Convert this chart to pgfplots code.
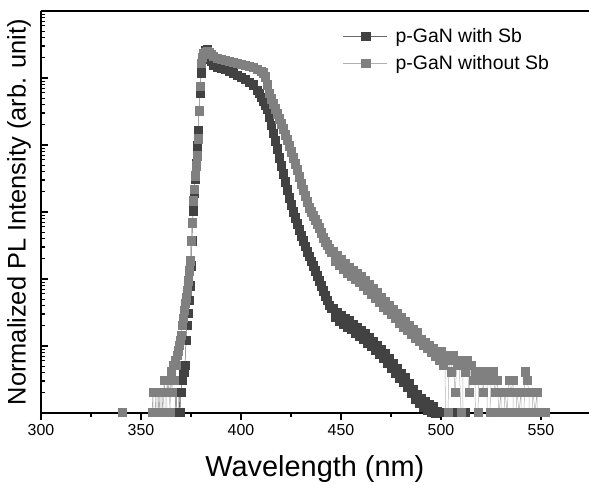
\documentclass[border=0pt]{standalone}
\usepackage{fontspec}
\setmainfont{Liberation Sans}
\usepackage{pgfplots}
\pgfplotsset{compat=1.18}
\definecolor{darkc}{RGB}{66,66,66}
\definecolor{darkl}{RGB}{105,105,105}
\definecolor{lightc}{RGB}{128,128,128}
\definecolor{lightl}{RGB}{175,175,175}
\begin{document}
\begin{tikzpicture}
\begin{axis}[
 scale only axis, width=550bp, height=402bp,
 xmin=300, xmax=575, ymode=log, ymin=1e-6, ymax=1,
 axis x line*=box, axis y line*=left,
 x axis line style={-}, y axis line style={-},
 axis line style={line width=1.5bp},
 xtick={300,350,...,550}, minor x tick num=1,
 ytick={1e-6,1e-5,1e-4,1e-3,1e-2,1e-1,1},
 yticklabels={},
 xtick pos=left, ytick pos=left,
 xtick align=outside, ytick align=inside,
 major tick length=7bp, minor tick length=4bp,
 every tick/.append style={black, line width=1.1bp},
 xticklabel style={font=\fontsize{16}{19}\selectfont, yshift=-1bp},
 /pgf/number format/assume math mode=true,
 xlabel={Wavelength (nm)}, ylabel={Normalized PL Intensity (arb. unit)},
 every axis x label/.style={at={(axis description cs:0.498,0)}, anchor=center, yshift=-56bp, font=\fontsize{29}{34}\selectfont},
 every axis y label/.style={at={(axis description cs:-0.040,0.5)}, rotate=90, anchor=center, font=\fontsize{25.5}{30}\selectfont},
 legend style={at={(axis description cs:0.549,0.962)}, anchor=north west, draw=none, fill=none, font=\fontsize{19.5}{23}\selectfont, row sep=7.5bp, column sep=6bp, inner sep=0pt},
 legend cell align=left,
 legend image code/.code={\draw[#1, mark repeat=2, mark phase=2] plot coordinates {(0bp,0bp) (22bp,0bp) (44bp,0bp)};},
]
\addplot[color=darkl, line width=0.5bp, mark=square*, mark size=4.3bp, mark options={draw=darkc, fill=darkc, line width=0.3bp}] coordinates {
(365.5,1e-9)(366,1.03e-6)(366.5,1e-9)(367,1.03e-6)(367.5,2.06e-6)(368,1.03e-6)(368.5,1e-9)(369,2.06e-6)(369.5,1.03e-6)(370,2.06e-6)(370.5,3.09e-6)(371,4.12e-6)(371.5,4.12e-6)(372,5.15e-6)(372.5,1.22e-5)(373,2.04e-5)(373.5,3.1e-5)(374,4.81e-5)(374.5,8.03e-5)(375,1.59e-4)(375.5,3.75e-4)(376,1.05e-3)(376.5,1.95e-3)(377,3.1e-3)(377.5,5.3e-3)(378,9.73e-3)(378.5,1.63e-2)(379,3.3e-2)(379.5,5.98e-2)(380,0.119)(380.5,0.192)(381,0.235)(382,0.26)(383,0.27)(384,0.212)(385,0.179)(386,0.156)(388,0.146)(390,0.141)(392,0.136)(394,0.127)(396,0.119)(398,0.110)(400,0.103)(402,0.0966)(404,0.0870)(406,0.0790)(408,0.0660)(409,0.0598)(410,0.0515)(411,0.0455)(412,0.0396)(413,0.0346)(414,0.0262)(415,0.0199)(416,0.0151)(417,0.0116)(418,0.00878)(419,0.00651)(420,0.00490)(421,0.00372)(422,0.00283)(423,0.00215)(424,0.00163)(425,0.00129)(426,0.00101)(427,8.2e-4)(428,6.7e-4)(429,5.5e-4)(430,4.46e-4)(431,3.75e-4)(432,3.1e-4)(433,2.58e-4)(434,2.18e-4)(435,1.84e-4)(436,1.59e-4)(437,1.34e-4)(438,1.13e-4)(439,9.53e-5)(440,8.03e-5)(441,6.76e-5)(442,5.7e-5)(443,4.81e-5)(444,4.05e-5)(445,3.65e-5)
(446,3.65e-5)(447,2.68e-5)(448,3.18e-5)(449,2.37e-5)(450,2.85e-5)(451,2.14e-5)(452,2.58e-5)(453,1.96e-5)(454,2.42e-5)(455,1.78e-5)(456,2.1e-5)(457,1.57e-5)(458,1.9e-5)(459,1.42e-5)(460,1.72e-5)(461,1.27e-5)(462,1.55e-5)(463,1.13e-5)(464,1.35e-5)(465,9.9e-6)(466,1.17e-5)(467,8.7e-6)(468,1.03e-5)(469,7.55e-6)(470,9.0e-6)(471,6.6e-6)(472,7.8e-6)(473,5.7e-6)(474,6.5e-6)(475,4.7e-6)(476,5.5e-6)(477,4.0e-6)(478,4.65e-6)(479,3.4e-6)(480,3.93e-6)(481,2.88e-6)(482,3.43e-6)(483,2.44e-6)(484,2.77e-6)(485,1.99e-6)(486,2.27e-6)(487,1.64e-6)(488,1.92e-6)(489,1.4e-6)(490,1.66e-6)(491,1.25e-6)(492,1.5e-6)(493,1.12e-6)(494,1.36e-6)(495,1.04e-6)(496,1.27e-6)(497,1.0e-6)(498,1.07e-6)(499,1.03e-6)(500,1e-9)(501,1.03e-6)(502,1e-9)(506,1e-9)(506.5,1.03e-6)(507,1e-9)(509,1.03e-6)(510,1e-9)(512,1.03e-6)(513,1e-9)
};
\addlegendentry{p-GaN with Sb}
\addplot[color=lightl, line width=0.5bp, mark=square*, mark size=4.3bp, mark options={draw=lightc, fill=lightc, line width=0.3bp}] coordinates {
(339.5,1e-9)(340.5,1.03e-6)(341.5,1e-9)(355,1e-9)(355.5,1.03e-6)(356,2.06e-6)(356.5,1e-9)(357,1.03e-6)(357.5,2.06e-6)(358,1e-9)(358.5,2.06e-6)(359,1.03e-6)(359.5,2.06e-6)(360,1e-9)(360.5,2.06e-6)(361,1.03e-6)(361.5,3.09e-6)(362,2.06e-6)(362.5,1e-9)(363,3.09e-6)(363.5,2.06e-6)(364,3.09e-6)(364.5,1.03e-6)(365,4.12e-6)(365.5,2.06e-6)(366,5.15e-6)(366.5,3.09e-6)(367,6.18e-6)(367.5,5.15e-6)(368,7.3e-6)(368.5,8.5e-6)(369,1.03e-5)(369.5,1.22e-5)(370,1.45e-5)(370.5,2.04e-5)(371,2.6e-5)(371.5,3.41e-5)(372,4.35e-5)(372.5,5.3e-5)(373,6.76e-5)(373.5,9.53e-5)(374,1.34e-4)(374.5,1.89e-4)(375,3.75e-4)(375.5,7.0e-4)(376,1.48e-3)(376.5,2.2e-3)(377,3.48e-3)(377.5,4.9e-3)(378,6.9e-3)(378.5,1.24e-2)(379,3.23e-2)(379.5,7.6e-2)(380,0.167)(380.5,0.206)(381,0.235)(382,0.243)(383,0.252)(384,0.243)(385,0.226)(386,0.212)(388,0.199)(390,0.192)(392,0.185)(394,0.179)(396,0.173)(398,0.167)(400,0.161)(402,0.156)(404,0.151)(406,0.146)(408,0.136)(410,0.127)(411,0.119)(412,0.104)(413,0.079)(414,0.0598)(415,0.0488)(416,0.041)(417,0.0346)(418,0.0292)(419,0.0246)(420,0.0207)(421,0.0175)(422,0.0142)(423,0.0120)(424,0.00973)(425,0.00794)(426,0.00651)(427,0.00527)(428,0.00427)(429,0.00336)(430,0.00265)(431,0.00215)(432,0.00175)(433,0.00143)(434,0.00117)(435,0.00101)(436,8.83e-4)(437,7.7e-4)(438,6.7e-4)(439,5.9e-4)(440,4.96e-4)(441,4.15e-4)(442,3.63e-4)(443,3.27e-4)(444,2.85e-4)(445,2.58e-4)
(446,2.58e-4)(447,1.89e-4)(448,2.25e-4)(449,1.64e-4)(450,1.95e-4)(451,1.43e-4)(452,1.70e-4)(453,1.25e-4)(454,1.48e-4)(455,1.11e-4)(456,1.34e-4)(457,1.0e-4)(458,1.2e-4)(459,9.0e-5)(460,1.08e-4)(461,8.03e-5)(462,9.53e-5)(463,7.0e-5)(464,8.3e-5)(465,6.1e-5)(466,7.2e-5)(467,5.3e-5)(468,6.2e-5)(469,4.5e-5)(470,5.3e-5)(471,3.9e-5)(472,4.6e-5)(473,3.41e-5)(474,4.05e-5)(475,2.97e-5)(476,3.53e-5)(477,2.6e-5)(478,3.1e-5)(479,2.25e-5)(480,2.7e-5)(481,1.95e-5)(482,2.33e-5)(483,1.72e-5)(484,2.04e-5)(485,1.5e-5)(486,1.78e-5)(487,1.33e-5)(488,1.61e-5)(489,1.2e-5)
(490,1.24e-5)(491,1.03e-5)(492,1.13e-5)(493,9.27e-6)(494,1.03e-5)(495,8.24e-6)(496,9.27e-6)(497,7.21e-6)(498,8.24e-6)(499,6.18e-6)(500,8.24e-6)(501,5.15e-6)(502,7.21e-6)(503,1e-9)(503.5,1.03e-6)(504,6.18e-6)(505,4.12e-6)(506,7.21e-6)(507,2.06e-6)(508,5.15e-6)(509,6.18e-6)(510,1.03e-6)(510.5,1e-9)(511,5.15e-6)(512,4.12e-6)(513,6.18e-6)(514,2.06e-6)(515,5.15e-6)(516,3.09e-6)(517,4.12e-6)(518,1e-9)(518.5,1.03e-6)(519,4.12e-6)(520,3.09e-6)(521,2.06e-6)(522,4.12e-6)(523,3.09e-6)(524,1e-9)(524.5,1.03e-6)(525,3.09e-6)(526,4.12e-6)(527,2.06e-6)(528,3.09e-6)(529,1.03e-6)(530,2.06e-6)(531,1e-9)(531.5,1.03e-6)(532,2.06e-6)(533,1.03e-6)(534,3.09e-6)(535,2.06e-6)(536,3.09e-6)(537,1e-9)(537.5,1.03e-6)(538,2.06e-6)(539,1.03e-6)(540,2.06e-6)(541,1e-9)(541.5,1.03e-6)(542,4.12e-6)(543,3.09e-6)(544,2.06e-6)(545,1e-9)(545.5,1.03e-6)(546,2.06e-6)(547,1.03e-6)(548,2.06e-6)(549,1e-9)(549.5,1.03e-6)(550,1.03e-6)(551,1e-9)(552,1.03e-6)(553,1e-9)
};
\addlegendentry{p-GaN without Sb}
\end{axis}
\pgfresetboundingbox
\path[use as bounding box] ([xshift=-41bp,yshift=-72bp]current axis.south west) rectangle ([xshift=-2bp,yshift=11bp]current axis.north east);
\end{tikzpicture}
\end{document}
